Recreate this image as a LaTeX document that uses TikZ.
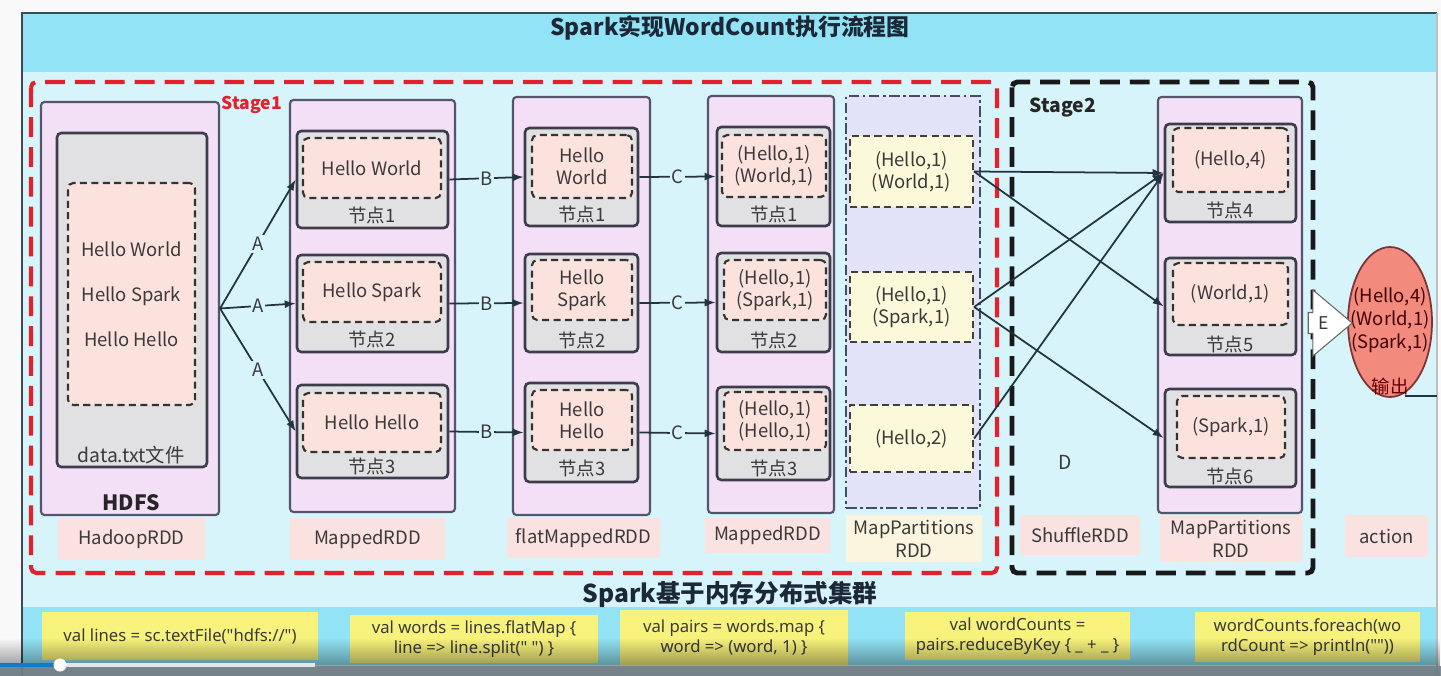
\documentclass[tikz,border=0pt]{standalone}
\usepackage{fontspec}
\setmainfont{Noto Sans CJK SC}
\newfontfamily\notefont{Noto Sans}
\usetikzlibrary{arrows.meta,shapes.geometric,shapes.arrows,fadings}
\definecolor{titlebg}{HTML}{92E3F5}
\definecolor{mainbg}{HTML}{D7F4FA}
\definecolor{rddfill}{HTML}{F3E0F7}
\definecolor{rddline}{HTML}{54546A}
\definecolor{nodefill}{HTML}{E1E1E3}
\definecolor{nodeline}{HTML}{3C3C4A}
\definecolor{datafill}{HTML}{FCE2DC}
\definecolor{labfill}{HTML}{F9E2E0}
\definecolor{ylabfill}{HTML}{FBF5E0}
\definecolor{mpfill}{HTML}{E2E2F8}
\definecolor{mpline}{HTML}{3F4E66}
\definecolor{pfill}{HTML}{FCF8DA}
\definecolor{stagered}{HTML}{E3202C}
\definecolor{txt}{HTML}{3A3A3A}
\definecolor{arrowc}{HTML}{24343C}
\definecolor{outfill}{HTML}{F28A7E}
\definecolor{outline}{HTML}{7C3434}
\definecolor{notefill}{HTML}{F7F27B}
\definecolor{titletxt}{HTML}{1C2838}
\newcommand{\fmain}{\fontsize{10.5}{12.5}\selectfont}
\newcommand{\fnote}{\notefont\fontsize{9.5}{11.5}\selectfont}
\newcommand{\mkbox}[7]{%
  \pgfmathsetmacro{\bxcx}{(#3+#5)/2}\pgfmathsetmacro{\bxcy}{(#4+#6)/2}%
  \pgfmathsetmacro{\bxww}{(#5-#3)*0.02}\pgfmathsetmacro{\bxhh}{(#6-#4)*0.02}%
  \node[#2, minimum width=\bxww cm, minimum height=\bxhh cm] (#1) at (\bxcx,\bxcy) {#7};}
\tikzset{
  rdd/.style={draw=rddline, line width=1.2pt, fill=rddfill, rounded corners=2pt, inner sep=0pt},
  nodebox/.style={draw=nodeline, line width=1.5pt, fill=nodefill, rounded corners=2.5pt, inner sep=0pt},
  databox/.style={draw=black!80, dash pattern=on 4pt off 2.5pt, line width=1.2pt, fill=datafill, rounded corners=3pt, text=txt, align=center, font=\fmain, inner sep=0pt},
  labbox/.style={fill=labfill, text=txt, font=\fmain, align=center, inner sep=0pt},
  ylabbox/.style={fill=ylabfill, text=txt, font=\fmain, align=center, inner sep=0pt},
  mpbox/.style={draw=mpline, dash pattern=on 6pt off 2pt on 1.5pt off 2pt, line width=1.2pt, fill=mpfill, inner sep=0pt},
  pbox/.style={draw=black!75, dash pattern=on 4pt off 2.5pt, line width=1.3pt, fill=pfill, text=txt, align=center, font=\fmain, inner sep=0pt},
  nlab/.style={text=txt, font=\fmain, inner sep=0pt},
  plain/.style={text=txt, font=\fmain, inner sep=0pt},
  arr/.style={draw=arrowc, line width=1pt, -{Latex[length=2.2mm,width=1.6mm]}},
  albl/.style={fill=mainbg, text=txt, font=\fmain, inner sep=1pt},
  notebox/.style={fill=notefill, text=txt, font=\fnote, align=center, inner sep=0pt},
  stagebox/.style={line width=2.3pt, dash pattern=on 11.3pt off 5.7pt, rounded corners=3pt}
}
\begin{document}
\begin{tikzpicture}[x=0.02cm,y=-0.02cm]
\useasboundingbox (0,0) rectangle (1441,676);
% screen background
\fill[white!95!gray] (0,0) rectangle (1441,676);
\fill[titlebg] (22,13) rectangle (1437,72);
\fill[mainbg] (22,72) rectangle (1437,607);
\fill[titlebg] (22,607) rectangle (1437,665);
\draw[titletxt!85, line width=1.6pt] (22,676) -- (22,13) -- (1437,13);
\draw[gray!50, line width=0.8pt] (1437,13) -- (1437,676);
% title
\node[font=\bfseries\fontsize{13}{15}\selectfont, text=titletxt] (title) at (730,28) {Spark实现WordCount执行流程图};
% stage frames
\draw[stagebox, draw=stagered] (31,82) rectangle (997,573);
\draw[stagebox, draw=black!90, line width=2.8pt] (1012,82) rectangle (1313,573);
\node[text=stagered, font=\bfseries\fontsize{10}{12}\selectfont] (st1) at (252,105) {Stage1};
\node[text=black!85, font=\bfseries\fontsize{11}{13}\selectfont] (st2) at (1063,107) {Stage2};
% column 1: HDFS
\mkbox{hdfs}{rdd}{41}{102}{219}{515}{}
\mkbox{hdfsin}{nodebox}{57}{133}{207}{467}{}
\mkbox{data}{databox, font=\fontsize{10.5}{25.5}\selectfont}{68}{183}{195}{405}{Hello World\\Hello Spark\\Hello Hello}
\node[plain, font=\fontsize{11}{13}\selectfont] (datatxt) at (131,455) {data.txt文件};
\node[text=black!85, font=\bfseries\fontsize{12}{14}\selectfont] (hdfslab) at (131,503) {HDFS};
\mkbox{lab1}{labbox}{58}{518}{205}{560}{HadoopRDD}
% column 2: MappedRDD
\mkbox{mrdd}{rdd}{290}{100}{455}{512}{}
\mkbox{m1}{nodebox}{297}{131}{448}{228}{}
\mkbox{m1in}{databox}{303}{138}{441}{198}{Hello World}
\node[nlab] (m1l) at (372,215) {节点1};
\mkbox{m2}{nodebox}{297}{255}{448}{352}{}
\mkbox{m2in}{databox}{303}{262}{441}{322}{Hello Spark}
\node[nlab] (m2l) at (372,339) {节点2};
\mkbox{m3}{nodebox}{297}{385}{448}{478}{}
\mkbox{m3in}{databox}{303}{393}{441}{452}{Hello Hello}
\node[nlab] (m3l) at (372,466) {节点3};
\mkbox{lab2}{labbox}{290}{518}{445}{560}{MappedRDD}
% column 3: flatMappedRDD
\mkbox{frdd}{rdd}{513}{97}{650}{515}{}
\mkbox{f1}{nodebox}{525}{128}{638}{226}{}
\mkbox{f1in}{databox}{532}{135}{632}{198}{Hello\\World}
\node[nlab] (f1l) at (582,214) {节点1};
\mkbox{f2}{nodebox}{525}{254}{638}{352}{}
\mkbox{f2in}{databox}{532}{260}{632}{320}{Hello\\Spark}
\node[nlab] (f2l) at (582,340) {节点2};
\mkbox{f3}{nodebox}{525}{383}{638}{482}{}
\mkbox{f3in}{databox}{532}{390}{632}{450}{Hello\\Hello}
\node[nlab] (f3l) at (582,468) {节点3};
\mkbox{lab3}{labbox}{507}{518}{660}{558}{flatMappedRDD}
% column 4: MappedRDD
\mkbox{krdd}{rdd}{708}{96}{834}{513}{}
\mkbox{k1}{nodebox}{717}{127}{830}{226}{}
\mkbox{k1in}{databox}{722}{135}{826}{197}{(Hello,1)\\(World,1)}
\node[nlab] (k1l) at (774,214) {节点1};
\mkbox{k2}{nodebox}{717}{253}{830}{352}{}
\mkbox{k2in}{databox}{724}{260}{826}{320}{(Hello,1)\\(Spark,1)}
\node[nlab] (k2l) at (774,340) {节点2};
\mkbox{k3}{nodebox}{717}{387}{830}{480}{}
\mkbox{k3in}{databox}{724}{392}{826}{450}{(Hello,1)\\(Hello,1)}
\node[nlab] (k3l) at (774,468) {节点3};
\mkbox{lab4}{labbox}{705}{518}{830}{553}{MappedRDD}
% column 5: MapPartitionsRDD
\mkbox{prdd}{mpbox}{846}{96}{980}{508}{}
\mkbox{p1}{pbox}{850}{136}{973}{207}{(Hello,1)\\(World,1)}
\mkbox{p2}{pbox}{850}{272}{973}{342}{(Hello,1)\\(Spark,1)}
\mkbox{p3}{pbox}{850}{405}{973}{472}{(Hello,2)}
\mkbox{lab5}{ylabbox, font=\fontsize{10.5}{13}\selectfont}{846}{515}{982}{562}{MapPartitions\\RDD}
% stage 2
\mkbox{lab6}{labbox}{1020}{515}{1140}{555}{ShuffleRDD}
\node[plain, font=\fontsize{11}{13}\selectfont] (dlab) at (1065,462) {D};
\mkbox{srdd}{rdd}{1158}{97}{1302}{513}{}
\mkbox{s4}{nodebox}{1165}{124}{1296}{222}{}
\mkbox{s4in}{databox}{1173}{128}{1288}{192}{(Hello,4)}
\node[nlab] (s4l) at (1230,210) {节点4};
\mkbox{s5}{nodebox}{1165}{258}{1296}{355}{}
\mkbox{s5in}{databox}{1173}{263}{1288}{325}{(World,1)}
\node[nlab] (s5l) at (1230,344) {节点5};
\mkbox{s6}{nodebox}{1165}{389}{1296}{487}{}
\mkbox{s6in}{databox}{1177}{396}{1285}{458}{(Spark,1)}
\node[nlab] (s6l) at (1230,476) {节点6};
\mkbox{lab7}{labbox, font=\fontsize{10.5}{13}\selectfont}{1160}{515}{1302}{562}{MapPartitions\\RDD}
\mkbox{lab8}{labbox}{1345}{515}{1428}{557}{action}
% output
\node[ellipse, draw=outline, line width=1pt, fill=outfill, minimum width=1.68cm, minimum height=3cm, inner sep=0pt] (out) at (1390,322) {};
\node[text=black!75!red, font=\fontsize{10.5}{13}\selectfont, align=center] (outtxt) at (1390,320) {(Hello,4)\\(World,1)\\(Spark,1)};
\node[text=black!60!red, font=\fontsize{10.5}{13}\selectfont] (outlab) at (1390,386) {输出};
\coordinate (ol1) at (1405,396);
\coordinate (ol2) at (1437,396);
\draw[arrowc, line width=0.8pt] (ol1) -- (ol2);
\node[single arrow, draw=gray!80!black, line width=0.6pt, fill=white, minimum height=0.88cm, single arrow head extend=0.45cm, single arrow tip angle=80, inner sep=2pt, font=\fontsize{10}{12}\selectfont, text=txt] (earr) at (1324,323) {E};
% arrows A
\draw[arr] (hdfs.east) -- node[albl, pos=0.5] {A} (m1.west);
\draw[arr] (hdfs.east) -- node[albl, pos=0.5] {A} (m2.west);
\draw[arr] (hdfs.east) -- node[albl, pos=0.5] {A} (m3.west);
% arrows B
\draw[arr] (m1.east) -- node[albl] {B} (f1.west);
\draw[arr] (m2.east) -- node[albl] {B} (f2.west);
\draw[arr] (m3.east) -- node[albl] {B} (f3.west);
% arrows C
\draw[arr] (f1.east) -- node[albl] {C} (k1.west);
\draw[arr] (f2.east) -- node[albl] {C} (k2.west);
\draw[arr] (f3.east) -- node[albl] {C} (k3.west);
% shuffle
\draw[arr] (p1.east) -- (s4.west);
\draw[arr] (p1.east) -- (s5.west);
\draw[arr] (p2.east) -- (s4.west);
\draw[arr] (p2.east) -- (s6.west);
\draw[arr] (p3.east) -- (s4.west);
% bottom caption
\node[font=\bfseries\fontsize{14}{16}\selectfont, text=titletxt] (cap) at (730,594) {Spark基于内存分布式集群};
% code notes
\mkbox{n1}{notebox}{42}{612}{318}{660}{val lines = sc.textFile("hdfs://")}
\mkbox{n2}{notebox}{350}{615}{598}{663}{val words = lines.flatMap \{\\line => line.split(" ") \}}
\mkbox{n3}{notebox}{620}{610}{848}{665}{val pairs = words.map \{\\word => (word, 1) \}}
\mkbox{n4}{notebox}{905}{612}{1130}{660}{val wordCounts =\\pairs.reduceByKey \{ \_ + \_ \}}
\mkbox{n5}{notebox}{1195}{612}{1420}{662}{wordCounts.foreach(wo\\rdCount => println(""))}
% video overlay
\fill[black, opacity=0.5, path fading=north] (0,638) rectangle (1441,676);
\fill[black!55!cyan!40!gray, opacity=0.9] (0,666) rectangle (1441,676);
\draw[white!80!gray, line width=2.2pt] (0,665) -- (315,665);
\draw[cyan!60!blue, line width=2.2pt] (0,665) -- (60,665);
\fill[white] (60,665) circle[radius=0.13cm];
\end{tikzpicture}
\end{document}
